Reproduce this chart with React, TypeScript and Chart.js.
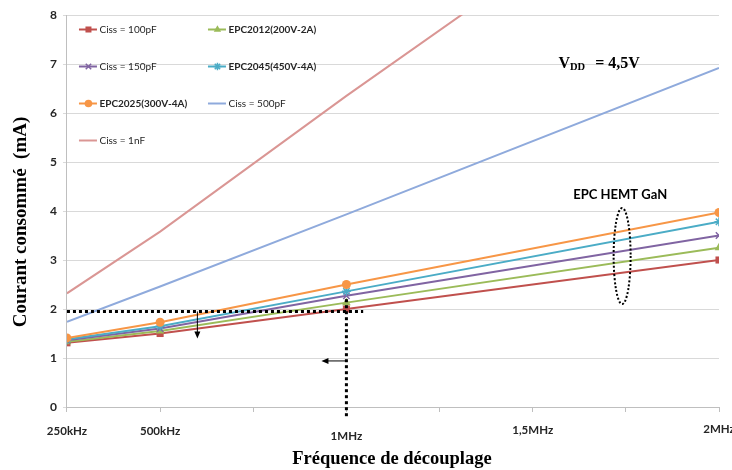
import React, { useEffect, useRef } from 'react';
import { Chart, registerables } from 'chart.js';

Chart.register(...registerables);

// ---------- data ----------
const freqMHz = [0.25, 0.5, 1, 2];
const ciss100pF = [1.31, 1.5, 2.0, 3.0];
const epc2012 = [1.33, 1.55, 2.13, 3.25];
const ciss150pF = [1.36, 1.6, 2.27, 3.5];
const epc2045 = [1.38, 1.65, 2.36, 3.78];
const epc2025 = [1.41, 1.73, 2.5, 3.97];
const ciss500pF = [1.74, 2.46, 3.93, 6.92];
const ciss1nF = [2.32, 3.58, 6.35, 11.7];

const seriesLabels = [
  'Ciss = 100pF',
  'EPC2012(200V-2A)',
  'Ciss = 150pF',
  'EPC2045(450V-4A)',
  'EPC2025(300V-4A)',
  'Ciss = 500pF',
  'Ciss = 1nF',
];
const seriesValues = [ciss100pF, epc2012, ciss150pF, epc2045, epc2025, ciss500pF, ciss1nF];
const seriesColors = ['#C0504D', '#9BBB59', '#8064A2', '#4BACC6', '#F79646', '#8FAADC', '#DA9694'];
const seriesMarkers = ['rect', 'triangle', 'crossRot', 'star', 'circle', 'none', 'none'];
const seriesMarkerRadius = [5, 5, 4.5, 4.5, 4.5, 0, 0];
const seriesBoldLabel = [false, true, false, true, true, false, false];

const xTickValues = [0.25, 0.5, 1, 1.5, 2];
const xTickLabels = ['250kHz', '500kHz', '1MHz', '1,5MHz', '2MHz'];
const xTickLabelY = [431, 431, 436, 430, 429];

const xTitle = 'Fréquence de découplage';
const yTitle = 'Courant consommé  (mA)';

// annotation values (data units)
const thresholdCurrent = 1.95; // mA
const thresholdFreqEnd = 1.045; // MHz
const markFreq = 1; // MHz
const markTop = 2.2; // mA
const downArrowFreq = 0.6;
const downArrowEnd = 1.4;
const leftArrowCurrent = 0.94;
const leftArrowEnd = 0.933;
const ellipseFreq = 1.74;
const ellipseCurrent = 3.08;
const gaNLabel = 'EPC HEMT GaN';
const gaNLabelPos = { x: 1.735, y: 4.33 };
const vddPos = { x: 1.569, y: 6.92 };

const SANS = 'Lato, "Open Sans", sans-serif';
const SERIF = '"Liberation Serif", "DejaVu Serif", serif';

function drawMarker(ctx: CanvasRenderingContext2D, style: string, x: number, y: number, r: number, color: string) {
  ctx.save();
  ctx.fillStyle = color;
  ctx.strokeStyle = color;
  ctx.lineWidth = 1.5;
  if (style === 'rect') {
    const s = r * Math.SQRT1_2;
    ctx.fillRect(x - s, y - s, 2 * s, 2 * s);
  } else if (style === 'triangle') {
    ctx.beginPath();
    ctx.moveTo(x, y - r);
    ctx.lineTo(x + r * 0.866, y + r * 0.5);
    ctx.lineTo(x - r * 0.866, y + r * 0.5);
    ctx.closePath();
    ctx.fill();
  } else if (style === 'circle') {
    ctx.beginPath();
    ctx.arc(x, y, r, 0, Math.PI * 2);
    ctx.fill();
  } else if (style === 'crossRot' || style === 'star') {
    const d = r * Math.SQRT1_2;
    ctx.beginPath();
    ctx.moveTo(x - d, y - d);
    ctx.lineTo(x + d, y + d);
    ctx.moveTo(x - d, y + d);
    ctx.lineTo(x + d, y - d);
    if (style === 'star') {
      ctx.moveTo(x, y - r);
      ctx.lineTo(x, y + r);
      ctx.moveTo(x - r, y);
      ctx.lineTo(x + r, y);
    }
    ctx.stroke();
  }
  ctx.restore();
}

const overlayPlugin = {
  id: 'overlay',
  afterDraw(chart: any) {
    const ctx: CanvasRenderingContext2D = chart.ctx;
    const xs = chart.scales.x;
    const ys = chart.scales.y;
    const area = chart.chartArea;
    const px = (v: number) => xs.getPixelForValue(v);
    const py = (v: number) => ys.getPixelForValue(v);

    ctx.save();

    // x tick labels
    ctx.font = `bold 11.5px ${SANS}`;
    ctx.fillStyle = '#262626';
    ctx.textAlign = 'center';
    ctx.textBaseline = 'middle';
    xTickValues.forEach((v, i) => {
      ctx.fillText(xTickLabels[i], px(v), xTickLabelY[i]);
    });

    // axis titles
    ctx.fillStyle = '#000';
    ctx.font = `bold 18.5px ${SERIF}`;
    ctx.fillText(xTitle, 392, 459);
    ctx.save();
    ctx.translate(21, 222);
    ctx.rotate(-Math.PI / 2);
    ctx.font = `bold 19px ${SERIF}`;
    ctx.fillText(yTitle, 0, 0);
    ctx.restore();

    // legend (inside plot area, 2 columns)
    chart.data.datasets.forEach((ds: any, i: number) => {
      const col = i % 2;
      const row = Math.floor(i / 2);
      const x0 = area.left + 12 + col * 129;
      const y0 = area.top + 14.5 + row * 37;
      ctx.save();
      ctx.strokeStyle = ds.borderColor;
      ctx.lineWidth = 2;
      ctx.beginPath();
      ctx.moveTo(x0, y0);
      ctx.lineTo(x0 + 18, y0);
      ctx.stroke();
      ctx.restore();
      if (seriesMarkers[i] !== 'none') {
        drawMarker(ctx, seriesMarkers[i], x0 + 9.5, y0, seriesMarkerRadius[i] * 0.85, ds.borderColor);
      }
      ctx.font = `${seriesBoldLabel[i] ? 'bold ' : ''}10px ${SANS}`;
      ctx.fillStyle = '#262626';
      ctx.textAlign = 'left';
      ctx.textBaseline = 'middle';
      ctx.fillText(ds.label, x0 + 20.5, y0 + 0.5);
    });

    // dotted reference lines
    ctx.strokeStyle = '#000';
    ctx.lineWidth = 3;
    ctx.setLineDash([3, 3]);
    ctx.beginPath();
    ctx.moveTo(px(0.25), py(thresholdCurrent));
    ctx.lineTo(px(thresholdFreqEnd), py(thresholdCurrent));
    ctx.stroke();
    ctx.beginPath();
    ctx.moveTo(px(markFreq), py(markTop));
    ctx.lineTo(px(markFreq), area.bottom + 10);
    ctx.stroke();

    // dotted ellipse
    ctx.lineWidth = 2;
    ctx.setLineDash([2, 2]);
    ctx.beginPath();
    ctx.ellipse(px(ellipseFreq), py(ellipseCurrent), 8.5, 48, 0, 0, Math.PI * 2);
    ctx.stroke();
    ctx.setLineDash([]);

    // arrows
    ctx.lineWidth = 1;
    ctx.fillStyle = '#000';
    const ax = px(downArrowFreq);
    const ay0 = py(thresholdCurrent);
    const ay1 = py(downArrowEnd);
    ctx.beginPath();
    ctx.moveTo(ax, ay0);
    ctx.lineTo(ax, ay1 - 5);
    ctx.stroke();
    ctx.beginPath();
    ctx.moveTo(ax, ay1);
    ctx.lineTo(ax - 3, ay1 - 7);
    ctx.lineTo(ax + 3, ay1 - 7);
    ctx.closePath();
    ctx.fill();

    const by = py(leftArrowCurrent);
    const bx0 = px(markFreq);
    const bx1 = px(leftArrowEnd);
    ctx.beginPath();
    ctx.moveTo(bx0, by);
    ctx.lineTo(bx1 + 5, by);
    ctx.stroke();
    ctx.beginPath();
    ctx.moveTo(bx1, by);
    ctx.lineTo(bx1 + 7, by - 3);
    ctx.lineTo(bx1 + 7, by + 3);
    ctx.closePath();
    ctx.fill();

    // text annotations
    ctx.fillStyle = '#000';
    ctx.font = `bold 13px ${SANS}`;
    ctx.textAlign = 'center';
    ctx.textBaseline = 'middle';
    ctx.fillText(gaNLabel, px(gaNLabelPos.x), py(gaNLabelPos.y));

    ctx.textAlign = 'left';
    ctx.textBaseline = 'alphabetic';
    let vx = px(vddPos.x);
    const vy = py(vddPos.y);
    ctx.font = `bold 16px ${SERIF}`;
    ctx.fillText('V', vx, vy);
    vx += ctx.measureText('V').width;
    ctx.font = `bold 10.5px ${SERIF}`;
    ctx.fillText('DD', vx, vy + 2);
    vx += ctx.measureText('DD').width + 10;
    ctx.font = `bold 16px ${SERIF}`;
    ctx.fillText('= 4,5V', vx, vy);

    ctx.restore();
  },
};

export default function App() {
  const canvasRef = useRef<HTMLCanvasElement | null>(null);

  useEffect(() => {
    if (!canvasRef.current) return;
    const datasets = seriesLabels.map((label, i) => ({
      label,
      data: freqMHz.map((f, j) => ({ x: f, y: seriesValues[i][j] })),
      borderColor: seriesColors[i],
      backgroundColor: seriesColors[i],
      borderWidth: 2,
      pointStyle: seriesMarkers[i] === 'none' ? false : seriesMarkers[i],
      pointRadius: seriesMarkerRadius[i],
      pointBorderWidth: seriesMarkers[i] === 'crossRot' || seriesMarkers[i] === 'star' ? 1.5 : 0,
      pointBorderColor: seriesColors[i],
      pointBackgroundColor: seriesColors[i],
      fill: false,
      tension: 0,
      order: seriesLabels.length - i,
    }));

    const chart = new Chart(canvasRef.current, {
      type: 'line',
      data: { datasets } as any,
      options: {
        animation: false,
        responsive: false,
        maintainAspectRatio: false,
        layout: { padding: { left: 44, right: 13, top: 15, bottom: 58 } },
        plugins: {
          legend: { display: false },
          tooltip: { enabled: false },
        },
        scales: {
          x: {
            type: 'linear',
            min: 0.25,
            max: 2,
            ticks: { display: false, stepSize: 0.25 },
            grid: { drawOnChartArea: false, drawTicks: true, tickLength: 5, color: '#bfbfbf' },
            border: { color: '#bfbfbf' },
          },
          y: {
            min: 0,
            max: 8,
            ticks: {
              stepSize: 1,
              padding: 6,
              color: '#262626',
              font: { family: SANS, weight: 'bold', size: 12 },
            },
            grid: { color: '#d9d9d9', tickLength: 4 },
            border: { color: '#bfbfbf' },
          },
        },
      } as any,
      plugins: [overlayPlugin],
    });
    return () => chart.destroy();
  }, []);

  return (
    <div style={{ position: 'absolute', left: 0, top: 0, width: 732, height: 470, background: '#fff' }}>
      <canvas ref={canvasRef} width={732} height={470} style={{ display: 'block' }} />
    </div>
  );
}
